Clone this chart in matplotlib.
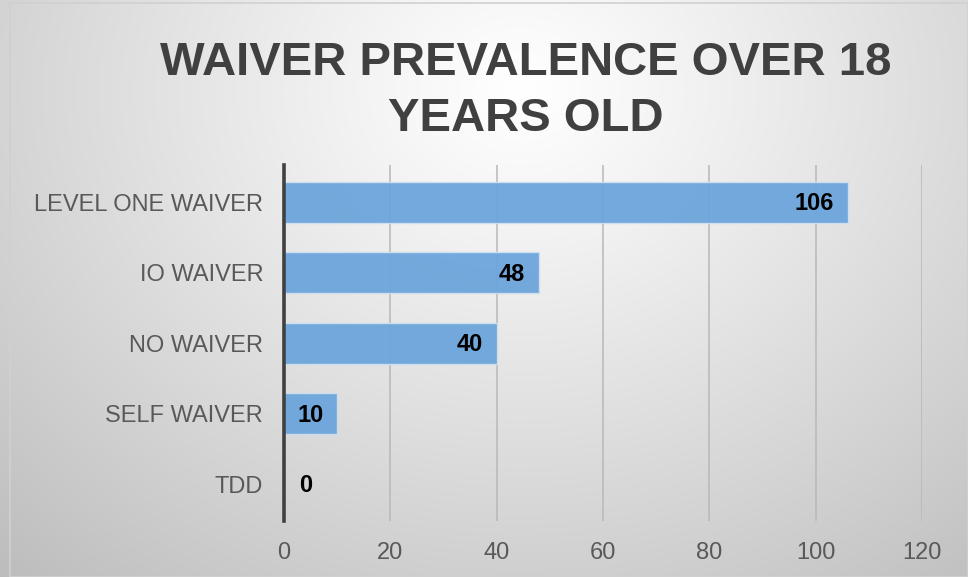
import numpy as np
import matplotlib
matplotlib.use("Agg")
import matplotlib.pyplot as plt
from matplotlib.patches import Rectangle

categories = ["LEVEL ONE WAIVER", "IO WAIVER", "NO WAIVER", "SELF WAIVER", "TDD"]
values = [106, 48, 40, 10, 0]
xticks = [0, 20, 40, 60, 80, 100, 120]
title = "WAIVER PREVALENCE OVER 18\nYEARS OLD"

W, H = 968, 577
fig = plt.figure(figsize=(W / 100, H / 100), dpi=100)

# background radial gradient
bg = fig.add_axes([0, 0, 1, 1], zorder=0)
yy, xx = np.mgrid[0:H, 0:W]
cx, cy = 520, 90
r = np.sqrt(((xx - cx) / 1.0) ** 2 + ((yy - cy) / 0.85) ** 2)
r = r / r.max()
val = 1.0 - 0.26 * np.clip(r, 0, 1) ** 1.1
img = np.dstack([val, val, val])
bg.imshow(img, extent=[0, W, H, 0], aspect="auto", interpolation="bilinear")
bg.set_xlim(0, W)
bg.set_ylim(H, 0)
bg.axis("off")
bg.add_patch(Rectangle((10, 3), W - 10, H - 3, fill=False, edgecolor="#d0d0d0", lw=1.2))

ax = fig.add_axes([284 / W, 1 - 521 / H, (922 - 284) / W, (521 - 165) / H], zorder=1)
ax.patch.set_alpha(0)
y = np.arange(len(categories))
ax.barh(y, values, height=0.58, color="#6ca5db", edgecolor="#cfe0f0", linewidth=1.0, alpha=0.95, zorder=2)
ax.set_xlim(0, 120)
ax.set_ylim(len(categories) - 0.5 + 0.02, -0.53)
ax.set_xticks(xticks)
ax.set_xticklabels([str(t) for t in xticks])
ax.set_yticks(y)
ax.set_yticklabels(categories)
ax.tick_params(axis="both", length=0, labelsize=17, labelcolor="#595959")
ax.tick_params(axis="x", pad=15)
ax.tick_params(axis="y", pad=15)
for lbl in ax.get_xticklabels() + ax.get_yticklabels():
    lbl.set_fontfamily("Liberation Sans")
ax.grid(axis="x", color="#b8b8b8", linewidth=1.1, zorder=1)
ax.set_axisbelow(True)
for s in ["top", "right", "bottom"]:
    ax.spines[s].set_visible(False)
ax.spines["left"].set_color("#404040")
ax.spines["left"].set_linewidth(2.6)
ax.spines["left"].set_zorder(3)

for yi, v in zip(y, values):
    if v > 5:
        ax.annotate(str(v), (v, yi), xytext=(-10, -1), textcoords="offset points",
                    ha="right", va="center", fontsize=17, fontweight="bold",
                    color="black", family="Liberation Sans", zorder=4)
    else:
        ax.annotate(str(v), (v, yi), xytext=(11, -1), textcoords="offset points",
                    ha="left", va="center", fontsize=17, fontweight="bold",
                    color="black", family="Liberation Sans", zorder=4)

fig.text(526 / W, 1 - 91 / H, title, ha="center", va="center", fontsize=34,
         fontweight="bold", color="#404040",
         family="Liberation Sans", linespacing=1.36)

fig.savefig("out.png", dpi=100)
